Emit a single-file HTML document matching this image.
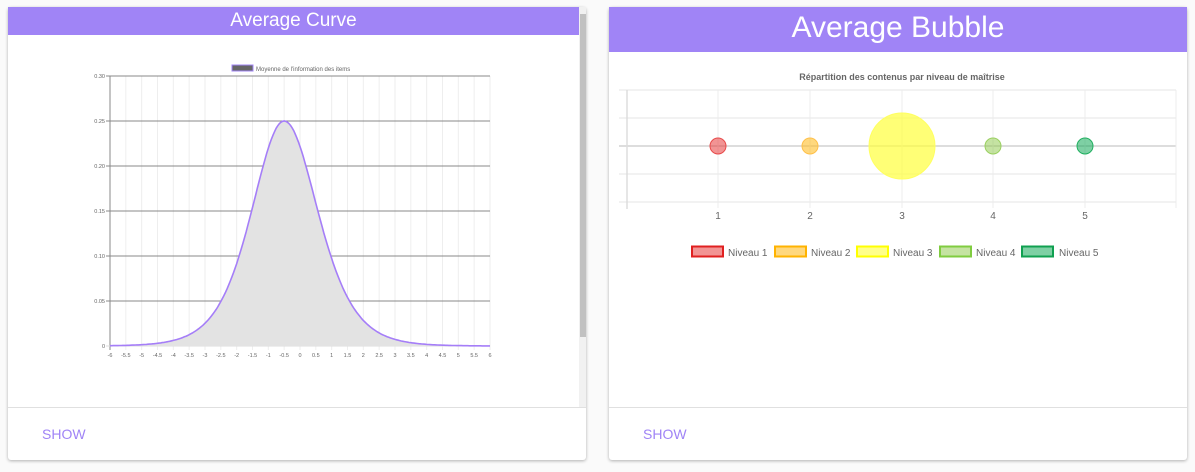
<!DOCTYPE html>
<html><head><meta charset="utf-8"><style>
body{margin:0;width:1195px;height:472px;background:#fafafa;font-family:"Liberation Sans",sans-serif;position:relative;overflow:hidden}
.card{position:absolute;background:#fff;border-radius:3px;box-shadow:0 1px 3px rgba(0,0,0,.3)}
.hdr{position:absolute;left:0;top:0;background:#a084f6;color:#fff;text-align:center}
.foot{position:absolute;left:0;right:0;top:400px;border-top:1px solid #e0e0e0}
.show{position:absolute;left:34px;top:419px;color:#a084f6;font-size:14px}
</style></head><body>
<div class="card" style="left:8px;top:7px;width:578px;height:453px">
 <div class="hdr" style="width:571px;height:28px;font-size:19px;line-height:27px">Average Curve</div>
 <div style="position:absolute;left:571px;top:0;width:7px;height:400px;background:#f1f1f1"></div>
 <div style="position:absolute;left:572px;top:7px;width:6px;height:323px;background:#c1c1c1"></div>
 <div class="foot"></div>
 <div class="show">SHOW</div>
</div>
<div class="card" style="left:609px;top:7px;width:578px;height:453px">
 <div class="hdr" style="width:578px;height:45px;font-size:30px;line-height:42px">Average Bubble</div>
 <div class="foot"></div>
 <div class="show">SHOW</div>
</div>
<svg id="s" width="1195" height="472" style="position:absolute;left:0;top:0" font-family="Liberation Sans, sans-serif">
 <g id="grid"></g>
 <rect x="232" y="65" width="21" height="6" fill="#666" stroke="#a084f6" stroke-width="1"/>
 <text x="256" y="71" font-size="6" fill="#666">Moyenne de l'information des items</text>
 <path id="area" fill="#e3e3e3" stroke="none"/>
 <path id="line" fill="none" stroke="#a57ef8" stroke-width="1.6"/>
 <text x="902" y="80" font-size="9" font-weight="bold" fill="#666" text-anchor="middle">Répartition des contenus par niveau de maîtrise</text>
 <g id="bg"></g>
 <circle cx="718" cy="146" r="8" fill="rgba(232,60,60,.55)" stroke="#e84a4a"/>
 <circle cx="810" cy="146" r="8" fill="rgba(255,190,40,.6)" stroke="#ffc04a"/>
 <circle cx="902" cy="146" r="33" fill="rgba(255,255,60,.7)" stroke="#ffff60"/>
 <circle cx="993" cy="146" r="8" fill="rgba(140,200,70,.5)" stroke="#9ad060"/>
 <circle cx="1085" cy="146" r="8" fill="rgba(20,170,90,.55)" stroke="#20b060"/>
 <g font-size="10" fill="#666">
  <rect x="692" y="246.5" width="31" height="10" fill="rgba(232,60,60,.55)" stroke="#e02020" stroke-width="2"/><text x="728" y="256">Niveau 1</text>
  <rect x="775" y="246.5" width="31" height="10" fill="rgba(255,190,40,.6)" stroke="#ffb300" stroke-width="2"/><text x="811" y="256">Niveau 2</text>
  <rect x="857" y="246.5" width="31" height="10" fill="rgba(255,255,60,.6)" stroke="#ffff00" stroke-width="2"/><text x="893" y="256">Niveau 3</text>
  <rect x="940" y="246.5" width="31" height="10" fill="rgba(140,200,70,.5)" stroke="#80cc40" stroke-width="2"/><text x="976" y="256">Niveau 4</text>
  <rect x="1022" y="246.5" width="31" height="10" fill="rgba(20,170,90,.55)" stroke="#10a050" stroke-width="2"/><text x="1059" y="256">Niveau 5</text>
 </g>
</svg>
<script>
var NS="http://www.w3.org/2000/svg";
function el(p,t,a,txt){var e=document.createElementNS(NS,t);for(var k in a)e.setAttribute(k,a[k]);if(txt!==undefined)e.textContent=txt;p.appendChild(e);return e;}
var g=document.getElementById('grid');
function X(v){return 110+(v+6)*380/12;}function Y(v){return 346-v*900;}
for(var i=0;i<=24;i++){var v=-6+i*0.5,x=X(v);
 el(g,'line',{x1:x,x2:x,y1:76,y2:350,stroke:i==0?'#888':'#eee','stroke-width':1});
 el(g,'text',{x:x,y:357,'font-size':5.5,fill:'#666','text-anchor':'middle'},String(v));}
for(var j=0;j<=6;j++){var y=Y(j*0.05);
 el(g,'line',{x1:106,x2:490,y1:y,y2:y,stroke:j==0?'#ddd':'#888','stroke-width':1});
 el(g,'text',{x:105,y:y+2,'font-size':5.5,fill:'#666','text-anchor':'end'},j==0?'0':(j*0.05).toFixed(2));}
var d='';for(var t=-6;t<=6.001;t+=0.05){var z=t+0.5,k=z<0?1.45:1.4;var p=1/(1+Math.exp(-k*z));var v=p*(1-p);
 d+=(d?'L':'M')+X(t).toFixed(1)+','+Y(v).toFixed(1);}
document.getElementById('line').setAttribute('d',d);
document.getElementById('area').setAttribute('d',d+'L490,346L110,346Z');
var b=document.getElementById('bg');
[90,118,146,174,202].forEach(function(y,i){el(b,'line',{x1:619,x2:1176,y1:y,y2:y,stroke:i==2?'#bbb':'#e6e6e6'});});
[718,810,902,993,1085,1176].forEach(function(x,i){el(b,'line',{x1:x,x2:x,y1:90,y2:208,stroke:'#ececec'});if(i<5)el(b,'text',{x:x,y:219,'font-size':10,fill:'#666','text-anchor':'middle'},String(i+1));});
el(b,'line',{x1:627,x2:627,y1:90,y2:209,stroke:'#ddd','stroke-width':1.5});
</script>
</body></html>
